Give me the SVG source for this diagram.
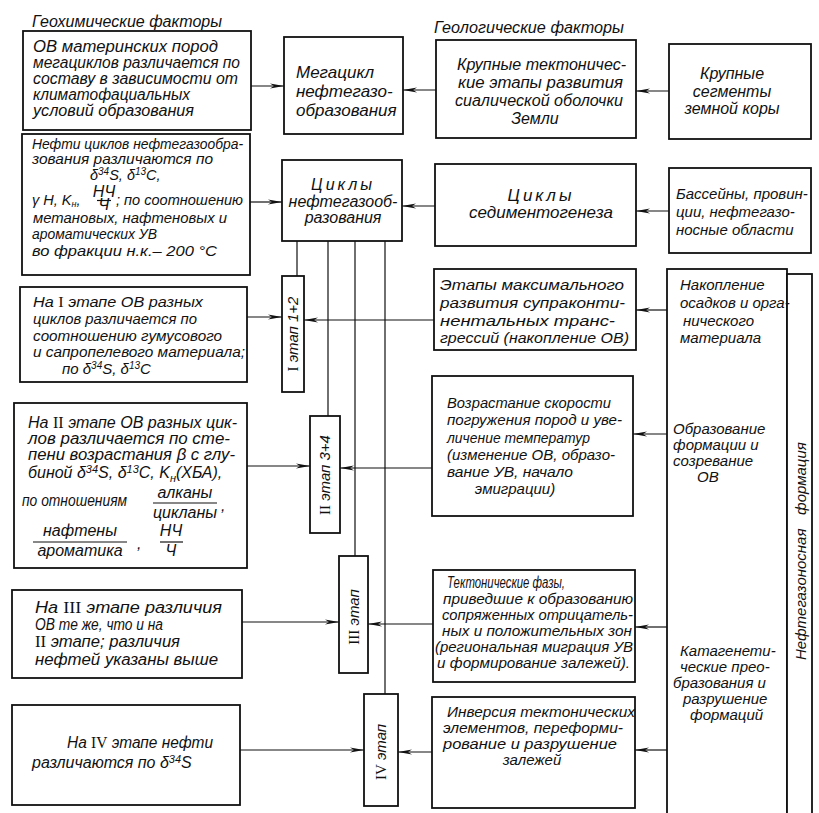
<svg xmlns="http://www.w3.org/2000/svg" width="819" height="813" viewBox="0 0 819 813">
<defs>
<marker id="ah" viewBox="0 0 14 6" refX="14" refY="3" markerWidth="14" markerHeight="6" markerUnits="userSpaceOnUse" orient="auto">
<path d="M0,0.6 L14,3 L0,5.4 L4,3 Z" fill="#111"/>
</marker>
</defs>
<style>
.b{fill:#fff;stroke:#111;stroke-width:1.8}
.c{fill:none;stroke:#111;stroke-width:1.2}
.a{fill:none;stroke:#111;stroke-width:1.2;marker-end:url(#ah)}
text{font-family:"Liberation Sans",Arial,sans-serif;font-style:italic;fill:#111;font-size:16px}
.m{text-anchor:middle}
.r{font-family:"Liberation Serif","Times New Roman",serif;font-style:normal}
.s{font-size:15px}
.sm{font-size:14.5px}
.big{font-size:17px}
</style>
<rect width="819" height="813" fill="#fff"/>

<g id="headers">
<text x="32" y="27" textLength="190" lengthAdjust="spacingAndGlyphs">Геохимические факторы</text>
<text x="434" y="33" textLength="190" lengthAdjust="spacingAndGlyphs">Геологические факторы</text>
</g>

<g id="connectors">
<path class="a" d="M251,86 H284"/>
<path class="a" d="M436,90 H403"/>
<path class="a" d="M669,91 H636"/>
<path class="a" d="M250,202 H282"/>
<path class="a" d="M435,206 H402"/>
<path class="a" d="M669,211 H636"/>
<path class="c" d="M297,241 V276 M328,241 V416 M355,241 V556 M385,241 V694"/>
<path class="a" d="M247,317 H282"/>
<path class="a" d="M434,320 H304"/>
<path class="a" d="M667,310 H636"/>
<path class="a" d="M247,466 H310"/>
<path class="a" d="M432,468 H340"/>
<path class="a" d="M667,434 H633"/>
<path class="a" d="M242,622 H339"/>
<path class="a" d="M433,624 H368"/>
<path class="a" d="M667,627 H635"/>
<path class="a" d="M240,750 H364"/>
<path class="a" d="M432,752 H398"/>
<path class="a" d="M667,750 H635"/>
</g>

<g id="geo1">
<rect class="b" x="23" y="31" width="228" height="99"/>
<text x="33" y="52" textLength="185" lengthAdjust="spacingAndGlyphs">ОВ материнских пород</text>
<text x="33" y="68" textLength="207" lengthAdjust="spacingAndGlyphs">мегациклов различается по</text>
<text x="33" y="84" textLength="205" lengthAdjust="spacingAndGlyphs">составу в зависимости от</text>
<text x="33" y="100" textLength="157" lengthAdjust="spacingAndGlyphs">климатофациальных</text>
<text x="33" y="116" textLength="161" lengthAdjust="spacingAndGlyphs">условий образования</text>
</g>

<g id="megacycle">
<rect class="b" x="284" y="37" width="119" height="97"/>
<text class="big" x="296" y="78">Мегацикл</text>
<text class="big" x="296" y="97">нефтегазо-</text>
<text class="big" x="296" y="116">образования</text>
</g>

<g id="tectonic-stages">
<rect class="b" x="436" y="40" width="200" height="98"/>
<text x="457" y="70" textLength="169" lengthAdjust="spacingAndGlyphs">Крупные тектоничес-</text>
<text x="458" y="88" textLength="165" lengthAdjust="spacingAndGlyphs">кие этапы развития</text>
<text x="455" y="106" textLength="168" lengthAdjust="spacingAndGlyphs">сиалической оболочки</text>
<text class="m" x="535" y="124">Земли</text>
</g>

<g id="segments">
<rect class="b" x="669" y="44" width="142" height="95"/>
<text class="m" x="732" y="79">Крупные</text>
<text class="m" x="732" y="97">сегменты</text>
<text class="m" x="732" y="114">земной коры</text>
</g>

<g id="geo2">
<rect class="b" x="22" y="134" width="228" height="141"/>
<text class="sm" x="32" y="149" textLength="211" lengthAdjust="spacingAndGlyphs">Нефти циклов нефтегазообра-</text>
<text class="sm" x="32" y="164" textLength="181" lengthAdjust="spacingAndGlyphs">зования различаются по</text>
<text class="sm" x="90" y="180">δ<tspan font-size="10" dy="-5">34</tspan><tspan dy="5">S, δ</tspan><tspan font-size="10" dy="-5">13</tspan><tspan dy="5">C,</tspan></text>
<text class="sm" x="32" y="205">γ H, K<tspan font-size="9" dy="2">н</tspan><tspan dy="-2">,</tspan></text>
<text class="m" x="104" y="197" font-size="10">НЧ</text>
<path class="c" d="M97,200.5 H111"/>
<text class="m" x="104" y="210" font-size="10">Ч</text>
<text class="sm" x="116" y="205" textLength="127" lengthAdjust="spacingAndGlyphs">; по соотношению</text>
<text class="sm" x="33" y="223" textLength="194" lengthAdjust="spacingAndGlyphs">метановых, нафтеновых и</text>
<text class="sm" x="32" y="239" textLength="125" lengthAdjust="spacingAndGlyphs">ароматических УВ</text>
<text class="sm" x="32" y="256" textLength="185" lengthAdjust="spacingAndGlyphs">во фракции н.к.– 200 °C</text>
</g>

<g id="cycles">
<rect class="b" x="282" y="160" width="120" height="81"/>
<text class="m" x="343" y="190" letter-spacing="3">Циклы</text>
<text class="m" x="343" y="207">нефтегазооб-</text>
<text class="m" x="343" y="223">разования</text>
</g>

<g id="sedimentogenesis">
<rect class="b" x="435" y="164" width="201" height="82"/>
<text class="big m" x="541" y="201" letter-spacing="3">Циклы</text>
<text class="big m" x="541" y="218">седиментогенеза</text>
</g>

<g id="basins">
<rect class="b" x="669" y="168" width="142" height="85"/>
<text class="s" x="676" y="199">Бассейны, провин-</text>
<text class="s" x="676" y="217">ции, нефтегазо-</text>
<text class="s" x="676" y="235">носные области</text>
</g>

<g id="geo3">
<rect class="b" x="20" y="287" width="227" height="95"/>
<text class="s" x="33" y="307" textLength="170" lengthAdjust="spacingAndGlyphs">На <tspan class="r">I</tspan> этапе ОВ разных</text>
<text class="s" x="33" y="324" textLength="164" lengthAdjust="spacingAndGlyphs">циклов различается по</text>
<text class="s" x="33" y="341" textLength="189" lengthAdjust="spacingAndGlyphs">соотношению гумусового</text>
<text class="s" x="33" y="357" textLength="212" lengthAdjust="spacingAndGlyphs">и сапропелевого материала;</text>
<text class="s" x="62" y="374">по δ<tspan font-size="10" dy="-5">34</tspan><tspan dy="5">S, δ</tspan><tspan font-size="10" dy="-5">13</tspan><tspan dy="5">C</tspan></text>
</g>

<g id="stage1">
<rect class="b" x="282" y="276" width="22" height="116"/>
<text class="s m" transform="translate(298,334) rotate(-90)"><tspan class="r">I</tspan> этап 1+2</text>
</g>

<g id="transgressions">
<rect class="b" x="434" y="269" width="202" height="81"/>
<text class="s" x="440" y="290" textLength="184" lengthAdjust="spacingAndGlyphs">Этапы максимального</text>
<text class="s" x="440" y="308" textLength="185" lengthAdjust="spacingAndGlyphs">развития супраконти-</text>
<text class="s" x="440" y="326" textLength="175" lengthAdjust="spacingAndGlyphs">нентальных транс-</text>
<text class="s" x="440" y="343" textLength="189" lengthAdjust="spacingAndGlyphs">грессий (накопление ОВ)</text>
</g>

<g id="formation">
<rect class="b" x="667" y="269" width="120" height="560"/>
<rect class="b" x="787" y="274" width="25" height="560"/>
<text class="s" x="680" y="290">Накопление</text>
<text class="s" x="680" y="308">осадков и орга-</text>
<text class="s" x="683" y="326">нического</text>
<text class="s" x="680" y="343">материала</text>
<text class="s" x="673" y="434">Образование</text>
<text class="s" x="673" y="450">формации и</text>
<text class="s" x="673" y="466">созревание</text>
<text class="s" x="697" y="482">ОВ</text>
<text class="s" x="680" y="656">Катагенети-</text>
<text class="s" x="680" y="672">ческие прео-</text>
<text class="s" x="673" y="688">бразования и</text>
<text class="s" x="683" y="704">разрушение</text>
<text class="s" x="690" y="720">формаций</text>
<text class="s" transform="translate(806,660) rotate(-90)">Нефтегазоносная</text>
<text class="s" transform="translate(806,515) rotate(-90)">формация</text>
</g>

<g id="geo4">
<rect class="b" x="14" y="403" width="233" height="165"/>
<text x="28" y="428" textLength="209" lengthAdjust="spacingAndGlyphs">На <tspan class="r">II</tspan> этапе ОВ разных цик-</text>
<text x="28" y="444" textLength="202" lengthAdjust="spacingAndGlyphs">лов различается по сте-</text>
<text x="28" y="460" textLength="207" lengthAdjust="spacingAndGlyphs">пени возрастания β с глу-</text>
<text x="28" y="478">биной δ<tspan font-size="11" dy="-5">34</tspan><tspan dy="5">S, δ</tspan><tspan font-size="11" dy="-5">13</tspan><tspan dy="5">C, K</tspan><tspan font-size="11" dy="4">н</tspan><tspan dy="-4">(ХБА),</tspan></text>
<text x="22" y="506" font-size="13" textLength="105" lengthAdjust="spacingAndGlyphs">по отношениям</text>
<text class="m" x="185" y="498" font-size="14">алканы</text>
<path class="c" d="M153,503 H217"/>
<text class="m" x="185" y="518" font-size="14">цикланы</text>
<text x="221" y="511">,</text>
<text class="m" x="80" y="536" font-size="14">нафтены</text>
<path class="c" d="M33,542 H127"/>
<text class="m" x="80" y="556" font-size="14">ароматика</text>
<text x="137" y="549">,</text>
<text class="m" x="171" y="536" font-size="13">НЧ</text>
<path class="c" d="M160,542 H183"/>
<text class="m" x="171" y="556" font-size="13">Ч</text>
</g>

<g id="stage2">
<rect class="b" x="310" y="416" width="30" height="117"/>
<text class="s m" transform="translate(330,475) rotate(-90)"><tspan class="r">II</tspan> этап 3+4</text>
</g>

<g id="subsidence">
<rect class="b" x="432" y="376" width="201" height="140"/>
<text class="s" x="447" y="408" textLength="164" lengthAdjust="spacingAndGlyphs">Возрастание скорости</text>
<text class="s" x="447" y="425" textLength="175" lengthAdjust="spacingAndGlyphs">погружения пород и уве-</text>
<text class="s" x="447" y="443" textLength="143" lengthAdjust="spacingAndGlyphs">личение температур</text>
<text class="s" x="447" y="460" textLength="168" lengthAdjust="spacingAndGlyphs">(изменение ОВ, образо-</text>
<text class="s" x="447" y="477" textLength="126" lengthAdjust="spacingAndGlyphs">вание УВ, начало</text>
<text class="s m" x="515" y="494">эмиграции)</text>
</g>

<g id="geo5">
<rect class="b" x="12" y="590" width="230" height="88"/>
<text x="35" y="613" textLength="187" lengthAdjust="spacingAndGlyphs">На <tspan class="r">III</tspan> этапе различия</text>
<text x="35" y="630" textLength="128" lengthAdjust="spacingAndGlyphs">ОВ те же, что и на</text>
<text x="35" y="647" textLength="145" lengthAdjust="spacingAndGlyphs"><tspan class="r">II</tspan> этапе; различия</text>
<text x="35" y="665" textLength="183" lengthAdjust="spacingAndGlyphs">нефтей указаны выше</text>
</g>

<g id="stage3">
<rect class="b" x="339" y="556" width="29" height="117"/>
<text class="s m" transform="translate(359,617) rotate(-90)"><tspan class="r">III</tspan> этап</text>
</g>

<g id="tectonic-phases">
<rect class="b" x="433" y="570" width="202" height="112"/>
<text x="447" y="588" font-size="14" textLength="118" lengthAdjust="spacingAndGlyphs">Тектонические фазы,</text>
<text class="s" x="443" y="604" textLength="190" lengthAdjust="spacingAndGlyphs">приведшие к образованию</text>
<text class="s" x="442" y="620" textLength="191" lengthAdjust="spacingAndGlyphs">сопряженных отрицатель-</text>
<text class="s" x="442" y="636" textLength="190" lengthAdjust="spacingAndGlyphs">ных и положительных зон</text>
<text class="s" x="435" y="652" textLength="198" lengthAdjust="spacingAndGlyphs">(региональная миграция УВ</text>
<text class="s" x="437" y="668" textLength="193" lengthAdjust="spacingAndGlyphs">и формирование залежей).</text>
</g>

<g id="geo6">
<rect class="b" x="12" y="705" width="228" height="100"/>
<text x="67" y="748" textLength="146" lengthAdjust="spacingAndGlyphs">На <tspan class="r">IV</tspan> этапе нефти</text>
<text x="32" y="768">различаются по δ<tspan font-size="11" dy="-5">34</tspan><tspan dy="5">S</tspan></text>
</g>

<g id="stage4">
<rect class="b" x="364" y="694" width="34" height="112"/>
<text class="s m" transform="translate(386,752) rotate(-90)"><tspan class="r">IV</tspan> этап</text>
</g>

<g id="inversion">
<rect class="b" x="432" y="697" width="203" height="111"/>
<text class="s" x="447" y="717" textLength="188" lengthAdjust="spacingAndGlyphs">Инверсия тектонических</text>
<text class="s" x="443" y="733" textLength="180" lengthAdjust="spacingAndGlyphs">элементов, переформи-</text>
<text class="s" x="443" y="749" textLength="174" lengthAdjust="spacingAndGlyphs">рование и разрушение</text>
<text class="s m" x="532" y="765">залежей</text>
</g>
</svg>
